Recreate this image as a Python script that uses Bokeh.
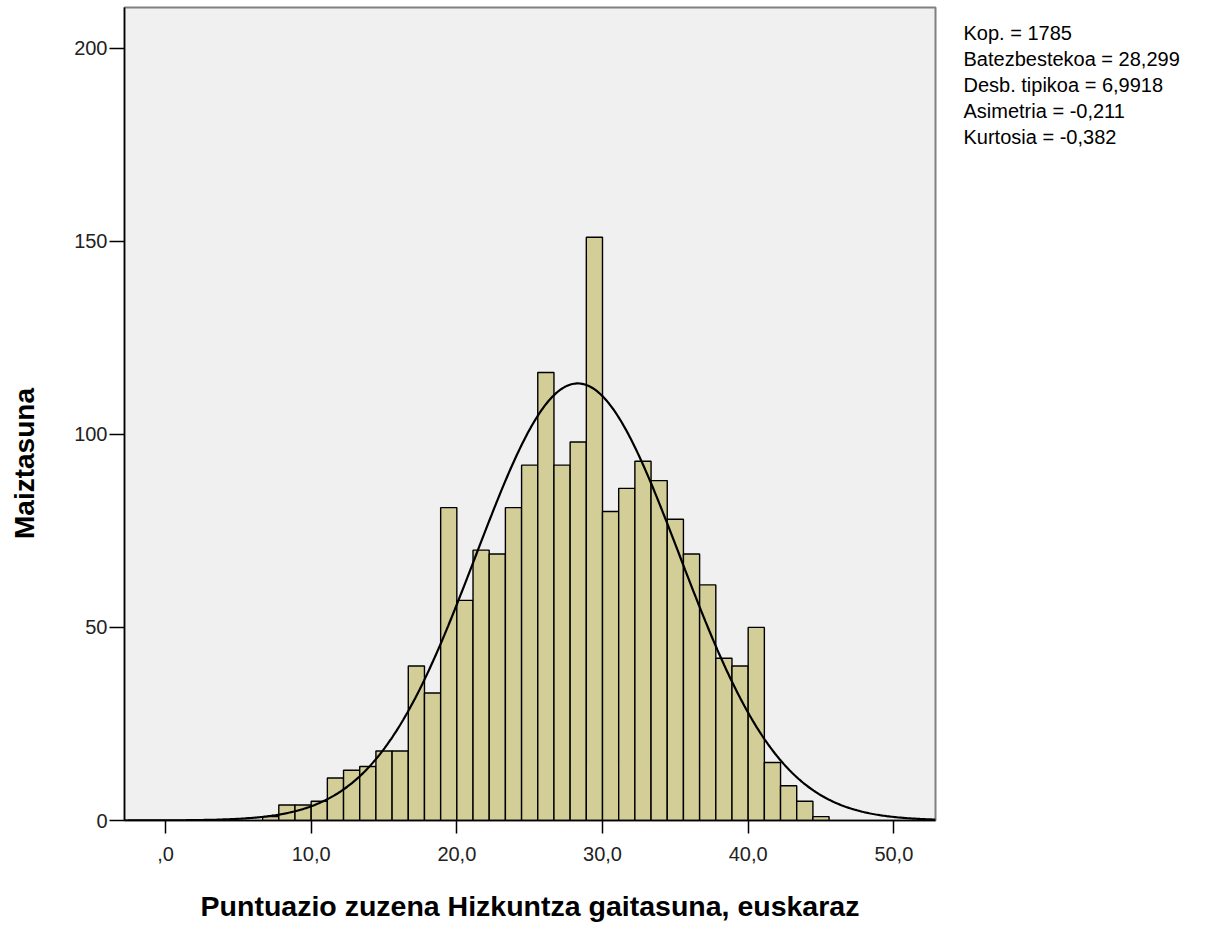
import numpy as np
from bokeh.plotting import figure
from bokeh.layouts import row
from bokeh.models import Range1d, FixedTicker, Label
from bokeh.embed import file_html
from bokeh.resources import INLINE

# ---- data ----
counts = [1, 4, 4, 5, 11, 13, 14, 18, 18, 40, 33, 81, 57, 70, 69, 81, 92, 116,
          92, 98, 151, 80, 86, 93, 88, 78, 69, 61, 42, 40, 50, 15, 9, 5, 1]
bin_start = 20.0 / 3.0
bin_width = 10.0 / 9.0
n_obs = 1785
mean_val = 28.299
sd_val = 6.9918
x_ticks = [0, 10, 20, 30, 40, 50]
x_tick_labels = [",0", "10,0", "20,0", "30,0", "40,0", "50,0"]
y_ticks = [0, 50, 100, 150, 200]
stats_lines = ["Kop. = 1785", "Batezbestekoa = 28,299", "Desb. tipikoa = 6,9918",
               "Asimetria = -0,211", "Kurtosia = -0,382"]
x_title = "Puntuazio zuzena Hizkuntza gaitasuna, euskaraz"
y_title = "Maiztasuna"

H = 936
FRAME_TOP, FRAME_BOTTOM = 7, 820
LEFT_W = 60
MAIN_W = 885
RIGHT_W = 250
FONT = "Liberation Sans"


def side_strip(width):
    # side figure whose frame is aligned with the main frame; data y = H - pixel y
    f = figure(width=width, height=H, output_backend="svg", toolbar_location=None,
               x_range=Range1d(0, width), y_range=Range1d(H - FRAME_BOTTOM, H - FRAME_TOP),
               min_border=0, min_border_top=FRAME_TOP, min_border_bottom=H - FRAME_BOTTOM,
               outline_line_color=None)
    f.axis.visible = False
    f.grid.visible = False
    return f


# ---- left strip holding the vertical axis title ----
pl = side_strip(LEFT_W)
pl.add_layout(Label(x=24, y=H - 463, text=y_title, angle=np.pi / 2,
                    text_font=FONT, text_font_size="28px", text_font_style="bold",
                    text_align="center", text_baseline="middle", text_color="black"))

# ---- main histogram ----
p = figure(width=MAIN_W, height=H, output_backend="svg", toolbar_location=None,
           x_range=Range1d(-2.815, 52.86), y_range=Range1d(0, 210.5),
           min_border_left=124 - LEFT_W, min_border_right=MAIN_W - (935 - LEFT_W),
           min_border_top=FRAME_TOP, min_border_bottom=H - FRAME_BOTTOM)
p.background_fill_color = "#F0F0F0"
p.border_fill_color = "white"
p.outline_line_color = "#808080"
p.outline_line_width = 2
p.grid.visible = False

edges = bin_start + bin_width * np.arange(len(counts) + 1)
p.quad(left=edges[:-1], right=edges[1:], bottom=0, top=counts,
       fill_color="#D3CE97", line_color="black", line_width=1.4)

xs = np.linspace(-2.815, 52.86, 600)
ys = n_obs * bin_width * np.exp(-0.5 * ((xs - mean_val) / sd_val) ** 2) / (sd_val * np.sqrt(2 * np.pi))
p.line(xs, ys, line_color="black", line_width=2.2)

for ax in (p.xaxis, p.yaxis):
    ax.axis_line_color = "black"
    ax.axis_line_width = 1.5
    ax.major_tick_line_color = "black"
    ax.major_tick_line_width = 1.5
    ax.major_tick_in = 0
    ax.minor_tick_line_color = None
    ax.major_label_text_font = FONT
    ax.major_label_text_font_size = "20px"
    ax.major_label_text_color = "#222222"

p.xaxis.ticker = FixedTicker(ticks=x_ticks)
p.xaxis.major_label_overrides = {t: s for t, s in zip(x_ticks, x_tick_labels)}
p.xaxis.major_tick_out = 13
p.xaxis.major_label_standoff = 13
p.xaxis.axis_label = x_title
p.xaxis.axis_label_text_font = FONT
p.xaxis.axis_label_text_font_size = "28.5px"
p.xaxis.axis_label_text_font_style = "bold"
p.xaxis.axis_label_text_color = "black"
p.xaxis.axis_label_standoff = 26
p.yaxis.ticker = FixedTicker(ticks=y_ticks)
p.yaxis.major_tick_out = 15
p.yaxis.major_label_standoff = 2

# ---- right strip with the summary statistics ----
pr = side_strip(RIGHT_W)
for i, s in enumerate(stats_lines):
    pr.add_layout(Label(x=963 - (LEFT_W + MAIN_W), y=H - (32 + i * 26), text=s,
                        text_font=FONT, text_font_size="20px", text_color="black",
                        text_baseline="middle", text_align="left"))

layout = row(pl, p, pr, spacing=0)
open("out.html", "w").write(file_html(layout, INLINE))
